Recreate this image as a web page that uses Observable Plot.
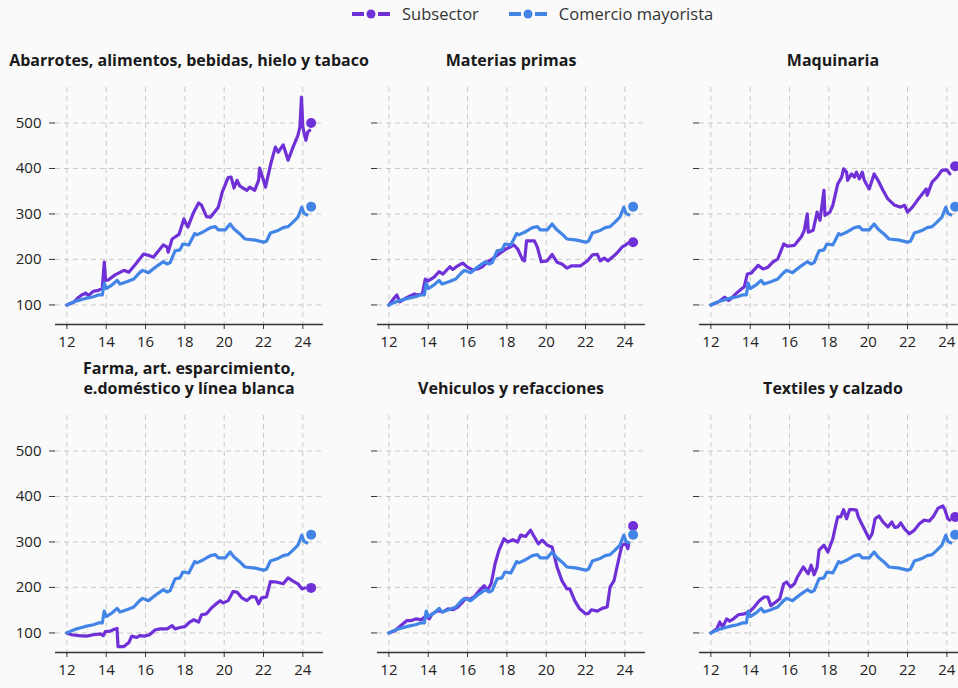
<!DOCTYPE html>
<html>
<head>
<meta charset="utf-8">
<script src="https://cdn.jsdelivr.net/npm/d3@7"></script>
<script src="https://cdn.jsdelivr.net/npm/@observablehq/plot@0.6"></script>
<style>
  html, body { margin: 0; padding: 0; overflow: hidden; background: #fafafa; }
  #chart { position: relative; width: 958px; height: 688px; overflow: hidden; background: #fafafa; font-family: "Open Sans", "Noto Sans", sans-serif; }
  .legend { position: absolute; top: 2px; left: 352px; display: flex; align-items: center; font-size: 16.5px; color: #333; white-space: nowrap; }
  .legend .item { display: flex; align-items: center; margin-right: 30px; }
  .legend svg { margin-right: 12px; }
  .panel { position: absolute; width: 330px; }
  .title { margin-left: 55px; width: 268px; height: 40px; display: flex; align-items: flex-end; justify-content: center; text-align: center; white-space: pre; line-height: 20px; font-weight: 700; font-size: 16px; color: #1a1a1a; }
</style>
</head>
<body>
<div id="chart"></div>
<script>
// ---------- data ----------
const seriesNames = ["Subsector", "Comercio mayorista"];
const colors = ["#7030d8", "#4285e6"];
const panelTitles = [
  "Abarrotes, alimentos, bebidas, hielo y tabaco",
  "Materias primas",
  "Maquinaria",
  "Farma, art. esparcimiento,\ne.doméstico y línea blanca",
  "Vehiculos y refacciones",
  "Textiles y calzado"
];
const xTicks = [12, 14, 16, 18, 20, 22, 24];
const yTicks = [100, 200, 300, 400, 500];
const lastDate = 24.42;

// Comercio mayorista (same in every panel)
const mayoristaT = [12.0,12.25,12.5,12.75,13.0,13.35,13.6,13.8,13.9,14.0,14.3,14.55,14.7,15.05,15.4,15.7,15.85,16.15,16.6,16.9,17.1,17.25,17.5,17.75,17.9,18.2,18.5,18.6,18.95,19.3,19.55,19.7,20.05,20.3,20.5,20.8,21.05,21.5,22.0,22.15,22.35,22.7,23.0,23.25,23.5,23.75,23.95,24.05,24.2];
const mayoristaV = [100,105,109,112,115,118,122,122,148,136,144,154,146,151,157,171,176,171,186,195,190,193,219,221,234,232,257,254,261,270,272,265,265,278,267,256,245,243,238,240,258,263,270,272,282,293,315,302,298];
const mayoristaLast = 316;

const abarrotesT = [12.0,12.35,12.6,12.75,12.95,13.1,13.35,13.6,13.8,13.9,13.97,14.1,14.45,14.9,15.15,15.5,15.9,16.15,16.4,16.9,17.1,17.15,17.35,17.7,17.95,18.15,18.45,18.7,18.85,19.1,19.3,19.7,19.9,20.2,20.35,20.5,20.65,20.8,21.15,21.3,21.55,21.75,21.8,22.0,22.1,22.35,22.6,22.75,23.0,23.25,23.5,23.75,23.85,23.93,24.0,24.15,24.25,24.35];
const abarrotesV = [100,106,117,122,126,121,130,132,137,194,154,155,166,176,172,190,212,209,205,232,227,216,245,255,289,271,304,324,319,294,293,315,348,380,381,357,374,361,352,359,352,374,401,374,359,407,447,436,452,418,447,473,491,557,491,462,480,484];

const materiasT = [12.0,12.3,12.4,12.55,12.95,13.3,13.45,13.7,13.85,14.0,14.3,14.55,14.75,15.1,15.25,15.5,15.75,16.0,16.25,16.5,16.75,17.0,17.25,17.6,17.95,18.2,18.35,18.55,18.8,18.9,19.0,19.4,19.55,19.75,20.05,20.3,20.55,20.8,21.05,21.3,21.75,22.1,22.35,22.6,22.75,22.95,23.15,23.45,23.7,23.85,24.05,24.15];
const materiasV = [100,117,122,107,117,124,122,124,157,153,161,173,168,184,178,186,192,183,177,179,184,194,201,212,223,228,232,223,199,197,241,241,227,195,197,211,194,190,181,186,186,197,210,211,197,203,197,208,219,227,232,236];

const maquinariaT = [12.0,12.35,12.7,12.9,13.05,13.3,13.55,13.7,13.85,14.05,14.4,14.65,14.9,15.15,15.4,15.7,15.9,16.25,16.6,16.75,16.9,16.95,17.2,17.4,17.55,17.75,17.8,18.05,18.2,18.45,18.65,18.75,18.9,18.95,19.15,19.3,19.4,19.55,19.7,19.8,20.05,20.3,20.5,20.75,21.0,21.35,21.65,21.85,22.0,22.25,22.5,22.75,22.95,23.0,23.25,23.5,23.75,24.0,24.15];
const maquinariaV = [100,106,117,110,115,126,135,140,168,170,187,179,183,194,201,234,229,231,250,264,300,260,264,304,286,352,297,304,319,366,381,399,392,374,388,381,392,377,392,374,355,388,374,352,333,319,315,319,304,315,330,344,355,341,370,381,396,397,388];

const farmaT = [12.0,12.25,12.6,13.0,13.35,13.7,13.85,13.95,14.2,14.35,14.55,14.6,14.9,15.15,15.3,15.55,15.7,15.95,16.2,16.5,16.75,17.1,17.35,17.5,17.75,18.0,18.25,18.45,18.7,18.85,19.1,19.35,19.6,19.8,19.95,20.2,20.45,20.65,20.9,21.15,21.4,21.6,21.75,21.9,22.15,22.35,22.65,23.0,23.25,23.5,23.75,23.95,24.1];
const farmaV = [100,96,94,93,96,98,94,103,104,107,110,70,70,79,93,90,94,93,96,107,109,109,116,109,112,114,124,129,124,140,142,155,164,171,166,171,191,190,177,171,180,179,164,177,179,213,212,208,221,214,208,197,199];

const vehiculosT = [12.0,12.3,12.6,12.9,13.1,13.4,13.65,13.9,14.05,14.2,14.5,14.75,15.0,15.25,15.5,15.75,15.9,16.1,16.35,16.6,16.85,17.0,17.2,17.4,17.6,17.85,18.05,18.3,18.55,18.7,18.95,19.2,19.4,19.6,19.8,20.05,20.3,20.55,20.8,21.05,21.2,21.45,21.7,22.0,22.15,22.3,22.6,22.85,23.1,23.25,23.45,23.6,23.85,24.05,24.15,24.2];
const vehiculosV = [100,105,116,127,127,131,129,138,131,142,149,146,153,151,157,168,176,174,180,193,204,193,208,252,282,307,300,305,300,315,312,326,311,296,304,293,289,245,215,197,197,171,153,142,143,151,148,154,157,201,215,245,293,296,285,296];

const textilesT = [12.0,12.3,12.45,12.6,12.8,12.95,13.15,13.4,13.7,13.95,14.2,14.45,14.7,14.9,15.05,15.3,15.5,15.7,15.85,16.05,16.25,16.4,16.7,16.8,16.95,17.1,17.25,17.4,17.5,17.75,17.95,18.2,18.35,18.45,18.6,18.75,18.9,19.05,19.25,19.4,19.5,19.75,20.05,20.2,20.35,20.55,20.75,21.0,21.2,21.35,21.5,21.65,21.85,22.1,22.35,22.6,22.85,23.1,23.3,23.55,23.8,23.9,24.05,24.15];
const textilesV = [100,109,124,113,131,126,131,140,142,146,157,170,179,179,160,168,175,208,212,201,208,223,245,239,230,249,228,244,282,293,278,307,337,355,355,371,351,371,371,370,355,333,307,318,351,357,344,333,344,332,333,342,329,318,326,340,348,346,355,374,379,371,351,348];

const subsectorT = [abarrotesT, materiasT, maquinariaT, farmaT, vehiculosT, textilesT];
const subsectorV = [abarrotesV, materiasV, maquinariaV, farmaV, vehiculosV, textilesV];
const subsectorLast = [500, 238, 405, 199, 335, 355];

// ---------- layout ----------
const chart = document.getElementById("chart");

// legend
const legend = document.createElement("div");
legend.className = "legend";
seriesNames.forEach((name, i) => {
  const item = document.createElement("div");
  item.className = "item";
  item.innerHTML = `<svg width="38" height="12" viewBox="0 0 38 12">
      <line x1="0" x2="12" y1="6" y2="6" stroke="${colors[i]}" stroke-width="4"/>
      <circle cx="19" cy="6" r="4.5" fill="${colors[i]}"/>
      <line x1="26" x2="38" y1="6" y2="6" stroke="${colors[i]}" stroke-width="4"/>
    </svg><span>${name}</span>`;
  legend.appendChild(item);
});
chart.appendChild(legend);

const mayorista = d3.zip(mayoristaT, mayoristaV).map(([t, v]) => ({t, v}));

panelTitles.forEach((title, i) => {
  const col = i % 3, row = Math.floor(i / 3);
  const panel = document.createElement("div");
  panel.className = "panel";
  panel.style.left = (col * 322) + "px";
  panel.style.top = (30 + row * 328) + "px";

  const tdiv = document.createElement("div");
  tdiv.className = "title";
  tdiv.textContent = title;
  panel.appendChild(tdiv);

  const sub = d3.zip(subsectorT[i], subsectorV[i]).map(([t, v]) => ({t, v}));
  const ends = [
    {t: lastDate, v: subsectorLast[i], s: 0},
    {t: lastDate, v: mayoristaLast, s: 1}
  ];

  const svg = Plot.plot({
    width: 330,
    height: 284,
    marginLeft: 55,
    marginRight: 7,
    marginTop: 17,
    marginBottom: 30,
    style: { background: "transparent", fontFamily: "'Open Sans', 'Noto Sans', sans-serif", fontSize: "15px", color: "#222", overflow: "visible" },
    x: { domain: [11.42, 25.05], label: null },
    y: { domain: [57, 578], label: null },
    marks: [
      Plot.gridX({ticks: xTicks, stroke: "#c9c9c9", strokeOpacity: 1, strokeDasharray: "5,4"}),
      Plot.gridY({ticks: yTicks, stroke: "#c9c9c9", strokeOpacity: 1, strokeDasharray: "5,4"}),
      Plot.ruleY([57], {stroke: "#333", strokeWidth: 1.5}),
      Plot.axisX({ticks: xTicks, tickSize: 5, tickPadding: 7, tickFormat: d => String(d), stroke: "#333", fontSize: 15}),
      Plot.axisY({ticks: yTicks, tickSize: 6, tickPadding: 8, tickFormat: col === 0 ? (d => String(d)) : (() => ""), stroke: "#333", fontSize: 15}),
      Plot.line(sub, {x: "t", y: "v", stroke: colors[0], strokeWidth: 3.2, strokeLinejoin: "round", strokeLinecap: "round"}),
      Plot.line(mayorista, {x: "t", y: "v", stroke: colors[1], strokeWidth: 3.2, strokeLinejoin: "round", strokeLinecap: "round"}),
      Plot.dot(ends, {x: "t", y: "v", r: 5, fill: d => colors[d.s], stroke: null})
    ]
  });
  panel.appendChild(svg);
  chart.appendChild(panel);
});
</script>
</body>
</html>
